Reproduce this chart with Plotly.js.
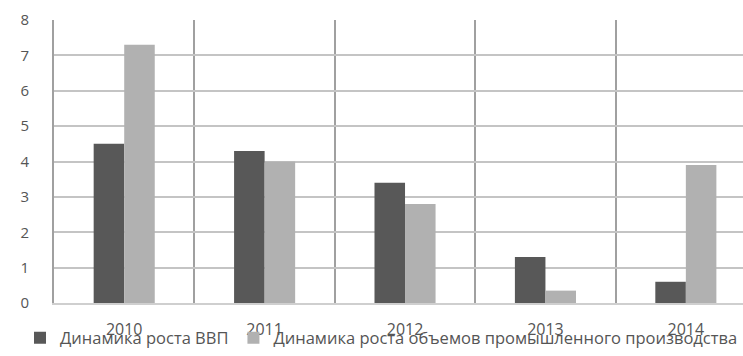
<!DOCTYPE html>
<html>
<head>
<meta charset="utf-8">
<script src="https://cdn.plot.ly/plotly-3.0.1.min.js"></script>
<style>html,body{margin:0;padding:0;overflow:hidden;background:#fff;}</style>
</head>
<body>
<div id="chart" style="width:743px;height:356px;"></div>
<script>
const years = ["2010", "2011", "2012", "2013", "2014"];
const gdpGrowth = [4.5, 4.3, 3.4, 1.3, 0.6];
const industryGrowth = [7.3, 4.0, 2.8, 0.35, 3.9];
const seriesNames = ["Динамика роста ВВП", "Динамика роста объемов промышленного производства"];
const yTicks = [0, 1, 2, 3, 4, 5, 6, 7, 8];

const traces = [
  {type: "bar", x: years, y: gdpGrowth, name: seriesNames[0], marker: {color: "#585858"}},
  {type: "bar", x: years, y: industryGrowth, name: seriesNames[1], marker: {color: "#b1b1b1"}}
];

const layout = {
  width: 743, height: 356,
  margin: {l: 54, r: 0, t: 20, b: 53},
  paper_bgcolor: "#fff", plot_bgcolor: "#fff",
  barmode: "group", bargap: 0.565, bargroupgap: 0,
  font: {family: "Open Sans, sans-serif", color: "#555"},
  xaxis: {
    type: "category", range: [-0.5, 4.407], tickson: "boundaries",
    showgrid: true, gridcolor: "#a0a0a0", gridwidth: 2,
    ticks: "", ticklabelstandoff: 11,
    tickfont: {size: 16, color: "#555"},
    showline: true, linecolor: "#cfcfcf", linewidth: 2,
    fixedrange: true
  },
  yaxis: {
    range: [0, 8], tickvals: yTicks, ticktext: yTicks.map(String),
    showgrid: true, gridcolor: "#c4c4c4", gridwidth: 2,
    zeroline: false, showline: true, linecolor: "#a0a0a0", linewidth: 2,
    ticks: "", ticklabelstandoff: 20,
    tickfont: {size: 15, color: "#555"},
    fixedrange: true
  },
  showlegend: true,
  legend: {
    orientation: "h", x: -0.045, xanchor: "left", y: -0.186, yanchor: "bottom",
    font: {size: 16.5, color: "#555"}, itemwidth: 30, tracegroupgap: 0,
    bgcolor: "rgba(0,0,0,0)"
  }
};

Plotly.newPlot("chart", traces, layout, {displayModeBar: false, staticPlot: true});
</script>
</body>
</html>
